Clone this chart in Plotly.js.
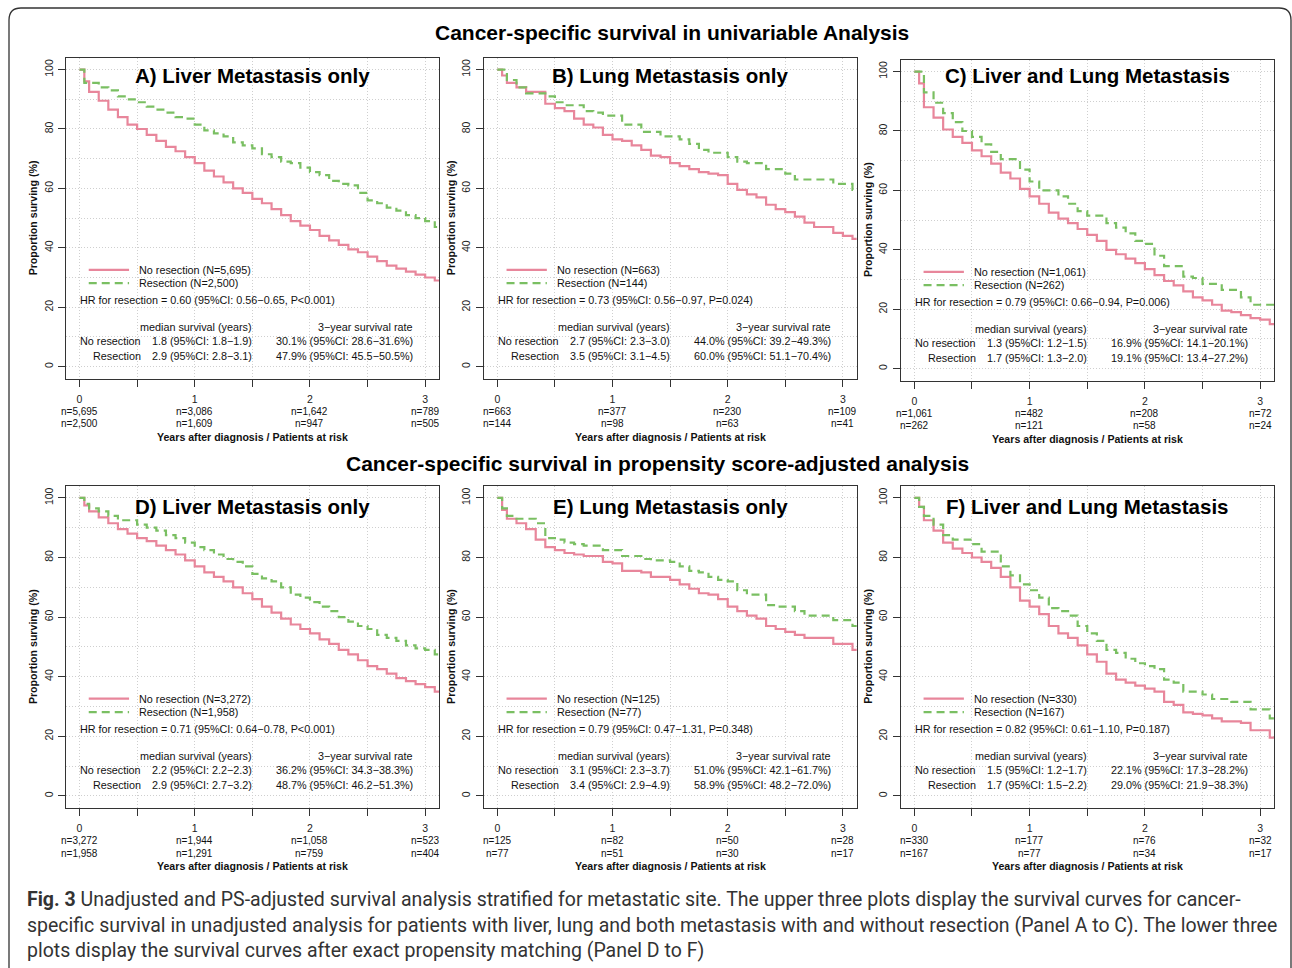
<!DOCTYPE html>
<html><head><meta charset="utf-8">
<script src="https://cdn.plot.ly/plotly-3.0.1.min.js"></script>
<style>html,body{margin:0;padding:0;background:#fff;overflow:hidden}</style>
</head><body><div id="chart" style="width:1292px;height:968px"></div>
<script>
// ---------------- DATA (months after diagnosis, survival %) ----------------
const panelTitles = ['A) Liver Metastasis only','B) Lung Metastasis only','C) Liver and Lung Metastasis',
                     'D) Liver Metastasis only','E) Lung Metastasis only','F) Liver and Lung Metastasis'];
const rowTitles = ['Cancer-specific survival in univariable Analysis',
                   'Cancer-specific survival in propensity score-adjusted analysis'];
const riskTimes = [0,1,2,3];

// A
const aNoT = [0,0.5,1,2,3,4,5,6,7,8,9,10,11,12,13,14,15,16,17,18,19,20,21,22,23,24,25,26,27,28,29,30,31,32,33,34,35,36,37];
const aNoS = [100,96,92.5,89.5,86.5,84,81.5,80,78,76,74,72.5,70.5,68.5,66,64,62,60,58.5,56.5,55,53,51,49,47.5,46,44,42.5,41,39.5,38.5,37,35.5,34,33,32,31,30,29];
const aResT = [0,0.5,2,3,4,5,6,7,8,9,10,11,12,13,14,15,16,17,18,19,20,21,22,23,24,25,26,27,28,29,30,31,32,33,34,35,36,37];
const aResS = [100,95.5,94,93,91,90,89,87.5,86.5,85.5,84,83.5,81.5,79.5,78.5,77.5,75.5,74.5,73.5,71.5,70.5,69,68.5,67,65.5,64.5,62.5,61.5,61,58.5,56,55,53.5,52.5,51,50,49,47];
// B
const bNoT = [0,0.5,1,2,3,5,6,7,8,9,10,11,12,13,14,15,16,17,18,19,20,21,22,23,24,25,26,27,28,29,30,31,32,33,35,36,37];
const bNoS = [100,98,95.5,94,92.5,88.5,87,86,83.5,81.5,80.5,78,76.5,76,74.5,73,71,70.5,68.5,67.5,66.5,65.5,65,64.5,61.5,59.5,58,57,54.5,53,52,50.5,48.5,47,45,44,43];
const bResT = [0,1,2,3,5,6,7,9,10,11,13,15,17,19,20,21,22,24,25,26,28,30,31,35,37];
const bResS = [100,96.5,94,92,91,89,88,86,85.5,84.5,81.5,79,77.5,76.5,75,73,72,70.5,69,68.5,66.5,65,63,61.5,59.5];
// C
const cNoT = [0,0.5,1,2,3,4,5,6,7,8,9,10,11,12,13,14,15,16,17,18,19,20,21,22,23,24,25,26,27,28,29,30,31,32,33,34,35,36,37];
const cNoS = [100,96,88,84.5,80.5,78,76,73.5,71.5,69,66,64,60.5,58,55.5,52.5,50.5,49,47,45,43,40,38.5,37,35.5,33.5,31.5,29.5,28,26,24,23,21.5,19.5,19,18,17,16.5,15];
const cResT = [0,1,2,3,4,5,6,7,8,9,11,12,13,15,16,17,18,20,21,22,23,24,25,26,28,29,30,32,34,35];
const cResS = [100,93,89.5,86,83,80,78,75.5,73,70.5,67,63,60,58,55.5,53,51.5,49,47.5,45.5,43,42,38,34.5,31,30.5,28.5,26.5,24,21.5];
// D
const dNoT = [0,0.5,1,2,3,4,5,6,7,8,9,10,11,12,13,14,15,16,17,18,19,20,21,22,23,24,25,26,27,28,29,30,31,32,33,34,35,36,37];
const dNoS = [100,97.5,95.5,93.5,91.5,89.5,88,86.5,85.5,84,82.5,81,79,77,75,73.5,72,70,68,66,63.5,61.5,59.5,57.5,56,54.5,52.5,51,49,47.5,45.5,43.5,42.5,41,39.5,38.5,37.5,36.5,35];
const dResT = [0,0.5,1,2,3,4,6,7,8,9,10,11,12,13,14,15,16,17,18,19,20,21,22,23,24,25,26,27,28,29,30,31,32,33,34,35,36,37];
const dResS = [100,98,96.5,95.5,94,92.5,91,90,89,87.5,86.5,85,83.5,82.5,81,79.5,78.5,77,74.5,73,72,70,67.5,66.5,65,63.5,62,60,58.5,57,56,54,53,52,50.5,49.5,49,47.5];
// E
const eNoT = [0,0.5,1,2,3,4,5,6,7,8,9,11,12,13,15,16,18,19,20,21,22,23,24,25,26,27,28,29,30,31,32,35,37];
const eNoS = [100,96,93,91.5,89.5,86,83.5,82.5,81.5,81,80.5,78.5,78,75.5,75,73.5,72.5,71,69.5,68,67.5,66,63.5,62,60.5,59.5,57,56,55,54,53,51,49];
const eResT = [0,0.5,1,2,4,5,6,7,8,9,11,13,15,16,18,19,20,21,22,23,24,25,26,28,29,31,32,35,37];
const eResS = [100,96.5,94,93,91.5,86.5,86,85,84.5,84,82.5,80.5,79.5,79,78.5,77,75.5,75,73.5,72.5,72,69,67.5,64,63.5,62,60.5,59,57];
// F
const fNoT = [0,0.5,1,2,3,4,5,6,7,8,9,10,11,12,13,14,15,16,17,18,19,20,21,22,23,24,25,26,27,28,29,30,31,32,34,35,37];
const fNoS = [100,97,92.5,89,85,83,81.5,80,78.5,76.5,73.5,70,65.5,63.5,61,57,54.5,53,50.5,47.5,45,41,39,38,37,36,35,31.5,30.5,28,27.5,27,26,25,24.5,22,19.5];
const fResT = [0,0.5,1,2,3,4,6,7,9,10,11,12,13,14,15,16,17,18,19,20,21,22,23,24,25,26,27,28,30,31,33,35,37];
const fResS = [100,97,94,91,87.5,86,84.5,82,77,74,71,69,66.5,63,62,60.5,57,54.5,52,49,48,46,44.5,43.5,42.5,39,38,35,34,32.5,31.5,29,26];

// Patients at risk at 0,1,2,3 years
const riskNo  = [['n=5,695','n=3,086','n=1,642','n=789'],['n=663','n=377','n=230','n=109'],['n=1,061','n=482','n=208','n=72'],
                 ['n=3,272','n=1,944','n=1,058','n=523'],['n=125','n=82','n=50','n=28'],['n=330','n=177','n=76','n=32']];
const riskRes = [['n=2,500','n=1,609','n=947','n=505'],['n=144','n=98','n=63','n=41'],['n=262','n=121','n=58','n=24'],
                 ['n=1,958','n=1,291','n=759','n=404'],['n=77','n=51','n=30','n=17'],['n=167','n=77','n=34','n=17']];
const legendNo  = ['No resection (N=5,695)','No resection (N=663)','No resection (N=1,061)','No resection (N=3,272)','No resection (N=125)','No resection (N=330)'];
const legendRes = ['Resection (N=2,500)','Resection (N=144)','Resection (N=262)','Resection (N=1,958)','Resection (N=77)','Resection (N=167)'];
const hrText = ['HR for resection = 0.60 (95%CI: 0.56\u22120.65, P<0.001)','HR for resection = 0.73 (95%CI: 0.56\u22120.97, P=0.024)',
                'HR for resection = 0.79 (95%CI: 0.66\u22120.94, P=0.006)','HR for resection = 0.71 (95%CI: 0.64\u22120.78, P<0.001)',
                'HR for resection = 0.79 (95%CI: 0.47\u22121.31, P=0.348)','HR for resection = 0.82 (95%CI: 0.61\u22121.10, P=0.187)'];
const medNo  = ['1.8 (95%CI: 1.8\u22121.9)','2.7 (95%CI: 2.3\u22123.0)','1.3 (95%CI: 1.2\u22121.5)','2.2 (95%CI: 2.2\u22122.3)','3.1 (95%CI: 2.3\u22123.7)','1.5 (95%CI: 1.2\u22121.7)'];
const medRes = ['2.9 (95%CI: 2.8\u22123.1)','3.5 (95%CI: 3.1\u22124.5)','1.7 (95%CI: 1.3\u22122.0)','2.9 (95%CI: 2.7\u22123.2)','3.4 (95%CI: 2.9\u22124.9)','1.7 (95%CI: 1.5\u22122.2)'];
const rateNo  = ['30.1% (95%CI: 28.6\u221231.6%)','44.0% (95%CI: 39.2\u221249.3%)','16.9% (95%CI: 14.1\u221220.1%)','36.2% (95%CI: 34.3\u221238.3%)','51.0% (95%CI: 42.1\u221261.7%)','22.1% (95%CI: 17.3\u221228.2%)'];
const rateRes = ['47.9% (95%CI: 45.5\u221250.5%)','60.0% (95%CI: 51.1\u221270.4%)','19.1% (95%CI: 13.4\u221227.2%)','48.7% (95%CI: 46.2\u221251.3%)','58.9% (95%CI: 48.2\u221272.0%)','29.0% (95%CI: 21.9\u221238.3%)'];
const captionLines = [
  '<b>Fig. 3</b> Unadjusted and PS-adjusted survival analysis stratified for metastatic site. The upper three plots display the survival curves for cancer-',
  'specific survival in unadjusted analysis for patients with liver, lung and both metastasis with and without resection (Panel A to C). The lower three',
  'plots display the survival curves after exact propensity matching (Panel D to F)'];

const seriesNo  = [[aNoT,aNoS],[bNoT,bNoS],[cNoT,cNoS],[dNoT,dNoS],[eNoT,eNoS],[fNoT,fNoS]];
const seriesRes = [[aResT,aResS],[bResT,bResS],[cResT,cResS],[dResT,dResS],[eResT,eResS],[fResT,fResS]];

// ---------------- STYLE / LAYOUT ----------------
const W = 1292, H = 968;
const FONT = 'Liberation Sans, Arial, Helvetica, sans-serif';
const RED = 'rgb(232,134,155)', GREEN = 'rgb(122,191,98)';
const END_MONTH = 38.5;
const colPx = [[65.7,439],[483.5,856.7],[900.5,1274]];
const rowPx = [[[57.7,378.5],[57.7,378.5],[59.7,380.5]],[[486,807.7],[486,807.7],[486,807.7]]];
const titlePxY = [75.7, 506.5];
const XR = [-0.12, 3.12], YR = [-4, 104];

const traces = [], annotations = [], shapes = [];
const layout = {width:W, height:H, margin:{l:0,r:0,t:0,b:0}, paper_bgcolor:'#fff', plot_bgcolor:'#fff',
  showlegend:false, font:{family:FONT, color:'#111'}};

function toYears(t){ return t.map(m => m/12); }
function extend(t, s){ return [toYears(t).concat([END_MONTH/12]), s.concat([s[s.length-1]])]; }

for (let i = 0; i < 6; i++) {
  const r = Math.floor(i/3), c = i % 3, n = i+1;
  const sfx = n === 1 ? '' : String(n);
  const xa = 'x'+sfx, ya = 'y'+sfx;
  const xd = [colPx[c][0]/W, colPx[c][1]/W];
  const rp = rowPx[r][c];
  const yd = [1 - rp[1]/H, 1 - rp[0]/H];
  const axCommon = {showline:true, linecolor:'#333', linewidth:1, mirror:true, zeroline:false,
    ticks:'outside', ticklen:7, tickwidth:1, tickcolor:'#333', fixedrange:true,
    showgrid:true, gridcolor:'#cfcfcf', griddash:'1px,2px', gridwidth:1,
    tickfont:{family:FONT, size:10.5, color:'#222'}};
  layout['xaxis'+sfx] = Object.assign({}, axCommon, {domain:xd, anchor:ya, range:XR, tick0:0, dtick:1,
    ticklabelstandoff:4,
    minor:{dtick:0.5, tick0:0, ticks:'outside', ticklen:7, tickwidth:1, tickcolor:'#333', showgrid:true, gridcolor:'#cfcfcf', griddash:'1px,2px', gridwidth:1}});
  layout['yaxis'+sfx] = Object.assign({}, axCommon, {domain:yd, anchor:xa, range:YR, tick0:0, dtick:20, tickangle:-90,
    ticklabelstandoff:1,
    minor:{dtick:10, tick0:0, ticks:'', showgrid:true, gridcolor:'#cfcfcf', griddash:'1px,2px', gridwidth:1}});

  const [nx, ny] = extend(seriesNo[i][0], seriesNo[i][1]);
  const [rx, ry] = extend(seriesRes[i][0], seriesRes[i][1]);
  traces.push({type:'scatter', mode:'lines', x:nx, y:ny, xaxis:xa, yaxis:ya, line:{shape:'hv', color:RED, width:2.2}, hoverinfo:'skip'});
  traces.push({type:'scatter', mode:'lines', x:rx, y:ry, xaxis:xa, yaxis:ya, line:{shape:'hv', color:GREEN, width:2.2, dash:'8px,5px'}, hoverinfo:'skip'});

  const txt = (text, x, y, anchor, size, bold, extra) => Object.assign({
    text: bold ? '<b>'+text+'</b>' : text, x:x, y:y, xref:xa, yref:ya, xanchor:anchor, yanchor:'middle',
    showarrow:false, font:{family:FONT, size:size, color:'#111'}, borderpad:0}, extra||{});
  annotations.push(txt(panelTitles[i], 1.5, 1 - titlePxY[r]/H, 'center', 20.5, true, {yref:'paper', font:{family:FONT, size:20.5, color:'#000'}}));
  annotations.push(txt(legendNo[i], 0.51, 32.6, 'left', 10.8));
  annotations.push(txt(legendRes[i], 0.51, 28.1, 'left', 10.8));
  annotations.push(txt(hrText[i], -0.005, 22.5, 'left', 10.8));
  annotations.push(txt('median survival (years)', 1.505, 13.5, 'right', 10.8));
  annotations.push(txt('3\u2212year survival rate', 2.905, 13.5, 'right', 10.8));
  annotations.push(txt('No resection', 0.545, 8.7, 'right', 10.8));
  annotations.push(txt('Resection', 0.545, 3.7, 'right', 10.8));
  annotations.push(txt(medNo[i], 1.505, 8.7, 'right', 10.8));
  annotations.push(txt(medRes[i], 1.505, 3.7, 'right', 10.8));
  annotations.push(txt(rateNo[i], 2.905, 8.7, 'right', 10.8));
  annotations.push(txt(rateRes[i], 2.905, 3.7, 'right', 10.8));
  // risk table below axis (y in domain fraction)
  riskTimes.forEach((t, k) => {
    annotations.push(txt(riskNo[i][k], t, -0.102, 'center', 10, false, {yref: ya+' domain'}));
    annotations.push(txt(riskRes[i][k], t, -0.141, 'center', 10, false, {yref: ya+' domain'}));
  });
  annotations.push(txt('Years after diagnosis / Patients at risk', 1.5, -0.182, 'center', 10.6, true, {yref: ya+' domain'}));
  annotations.push(txt('Proportion surving (%)', -0.087, 0.5, 'center', 10.6, true, {xref: xa+' domain', yref: ya+' domain', textangle:-90}));
  // legend samples
  shapes.push({type:'line', xref:xa, yref:ya, x0:0.08, x1:0.43, y0:32.6, y1:32.6, line:{color:RED, width:2.2}});
  shapes.push({type:'line', xref:xa, yref:ya, x0:0.08, x1:0.43, y0:28.1, y1:28.1, line:{color:GREEN, width:2.2, dash:'8px,5px'}});
}

// Row headings
annotations.push({text:'<b>'+rowTitles[0]+'</b>', x:671.5/W, y:1-33/H, xref:'paper', yref:'paper', xanchor:'center', yanchor:'middle', showarrow:false, font:{family:FONT, size:21, color:'#000'}});
annotations.push({text:'<b>'+rowTitles[1]+'</b>', x:657/W, y:1-464/H, xref:'paper', yref:'paper', xanchor:'center', yanchor:'middle', showarrow:false, font:{family:FONT, size:21, color:'#000'}});
// Caption
const capY = [899, 925, 950];
captionLines.forEach((line, k) => {
  annotations.push({text:line, x:25/W, y:1-capY[k]/H, xref:'paper', yref:'paper', xanchor:'left', yanchor:'middle', showarrow:false,
    font:{family:'Roboto, sans-serif', size:19.5, color:'#333'}});
});
// Figure frame (rounded rectangle)
(function(){
  const x0 = 9/W, x1 = 1291/W, y0 = 1-8/H, y1 = 1-990/H, rx = 12/W, ry = 12/H;
  const p = `M ${x0+rx} ${y0} L ${x1-rx} ${y0} Q ${x1} ${y0} ${x1} ${y0-ry} L ${x1} ${y1+ry} Q ${x1} ${y1} ${x1-rx} ${y1} `+
            `L ${x0+rx} ${y1} Q ${x0} ${y1} ${x0} ${y1+ry} L ${x0} ${y0-ry} Q ${x0} ${y0} ${x0+rx} ${y0} Z`;
  shapes.push({type:'path', xref:'paper', yref:'paper', path:p, line:{color:'#333', width:1.3}, fillcolor:'rgba(0,0,0,0)', layer:'below'});
})();

layout.annotations = annotations;
layout.shapes = shapes;
Plotly.newPlot('chart', traces, layout, {staticPlot:true, displayModeBar:false});
</script>
</body></html>
